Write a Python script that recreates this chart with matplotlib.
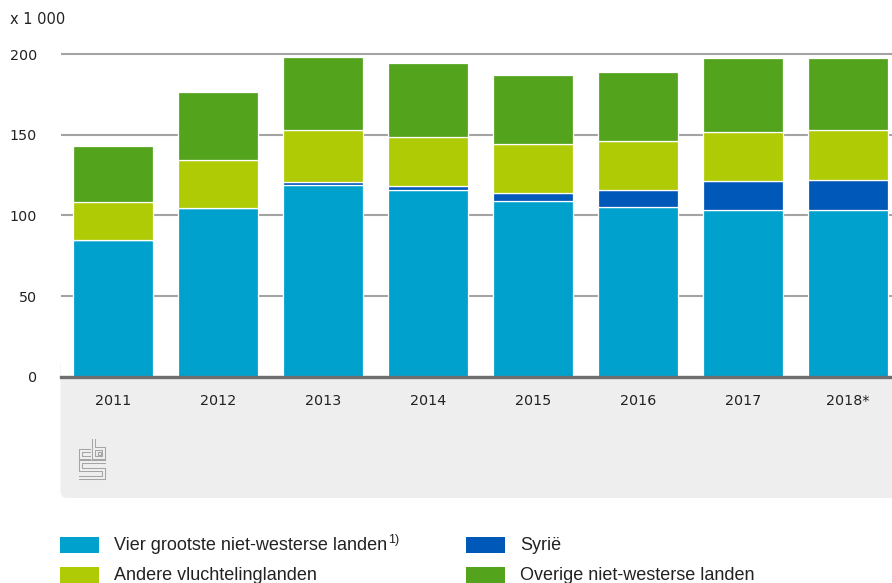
import numpy as np
import matplotlib
matplotlib.use('Agg')
import matplotlib.pyplot as plt
from matplotlib.patches import FancyBboxPatch, Rectangle
from matplotlib.lines import Line2D
from matplotlib.transforms import IdentityTransform

# data (x 1 000)
years = ['2011', '2012', '2013', '2014', '2015', '2016', '2017', '2018*']
vier = [84.6, 104.5, 119.0, 115.5, 108.8, 105.1, 103.2, 103.2]
syrie = [0.2, 0.3, 1.6, 2.7, 4.9, 10.5, 18.0, 19.0]
andere = [23.7, 29.6, 32.4, 30.6, 30.4, 30.5, 30.3, 30.5]
overige = [34.5, 41.9, 44.9, 45.4, 42.9, 42.6, 45.8, 44.6]

series_labels = ['Vier grootste niet-westerse landen', 'Syrië',
                 'Andere vluchtelinglanden', 'Overige niet-westerse landen']
colors = ['#00a1cd', '#0058b8', '#afcb05', '#53a31d']

W, H = 892, 583
fig = plt.figure(figsize=(W / 100, H / 100), dpi=100)

# axes in pixel terms: left 60.5, right 900.5 (runs off the figure), y=0 at 377
px_per_unit = 1.615
ax_bottom = H - 377
ax_top_val = 205
ax_h = ax_top_val * px_per_unit
ax = fig.add_axes([60.5 / W, ax_bottom / H, 840 / W, ax_h / H])

# grey band under the axis, rounded at the bottom
band = FancyBboxPatch((60.5, H - 498), 900, 140, boxstyle='round,pad=0,rounding_size=7',
                      transform=IdentityTransform(), facecolor='#eeeeee', edgecolor='none',
                      zorder=-5)
fig.add_artist(band)

x = np.arange(len(years))
bottom = np.zeros(len(years))
for vals, col in zip([vier, syrie, andere, overige], colors):
    ax.bar(x, vals, width=80 / 105, bottom=bottom, color=col, edgecolor='white',
           linewidth=0.9, zorder=3)
    bottom += np.array(vals)

ax.set_xlim(-0.5, len(years) - 0.5)
ax.set_ylim(0, ax_top_val)
ax.set_yticks([0, 50, 100, 150, 200])
ax.set_xticks(x)
ax.set_xticklabels(years)
ax.grid(axis='y', color='#a3a3a3', linewidth=1.5, zorder=0)
ax.set_axisbelow(True)
for s in ['top', 'right', 'left']:
    ax.spines[s].set_visible(False)
ax.spines['bottom'].set_color('#6e6e6e')
ax.spines['bottom'].set_linewidth(2.4)
ax.spines['bottom'].set_zorder(5)
ax.tick_params(axis='both', length=0, labelsize=10.3, labelcolor='#222222')
ax.tick_params(axis='y', pad=17)
ax.tick_params(axis='x', pad=12)

fig.text(10 / W, 1 - 19.5 / H, 'x 1 000', fontsize=10.5, color='#222222',
         ha='left', va='center')

# cbs logo, drawn as outlined strokes
def fx(px):
    return px / W

def fy(py):
    return 1 - py / H

logo_col = '#a5a5a5'
logo_paths = [
    [(90.5, 451), (81, 451), (81, 458), (90.5, 458)],
    [(94, 438.5), (94, 457.5), (104, 457.5), (104, 449), (94, 449)],
    [(105.5, 462), (81, 462), (81, 470), (104, 470), (104, 478), (79, 478)],
]
for pts in logo_paths:
    xs = [fx(p[0]) for p in pts]
    ys = [fy(p[1]) for p in pts]
    fig.add_artist(Line2D(xs, ys, color=logo_col, linewidth=2.9, solid_capstyle='butt',
                          solid_joinstyle='miter'))
    fig.add_artist(Line2D(xs, ys, color='#eeeeee', linewidth=1.45, solid_capstyle='butt',
                          solid_joinstyle='miter'))
fig.add_artist(Rectangle((fx(97.5), fy(454.5)), 3 / W, 2.5 / H, transform=fig.transFigure,
                         facecolor='none', edgecolor=logo_col, linewidth=0.8))

# legend, drawn by hand
leg_font = ['Liberation Sans', 'DejaVu Sans']
leg_pos = [(60, 545), (466, 545), (60, 575), (466, 575)]
texts = []
for i, (lx, ly) in enumerate(leg_pos):
    fig.add_artist(Rectangle((fx(lx), fy(ly + 8)), 39 / W, 16 / H, transform=fig.transFigure,
                             facecolor=colors[i], edgecolor='none'))
    t = fig.text(fx(lx + 54), fy(ly), series_labels[i], fontsize=13, family=leg_font,
                 color='#222222', ha='left', va='center')
    texts.append(t)

fig.canvas.draw()
bb = texts[0].get_window_extent()
fig.text(bb.x1 / W + 1 / W, fy(540), '1)', fontsize=9, family=leg_font, color='#222222',
         ha='left', va='center')

fig.savefig('out.png', dpi=100)
